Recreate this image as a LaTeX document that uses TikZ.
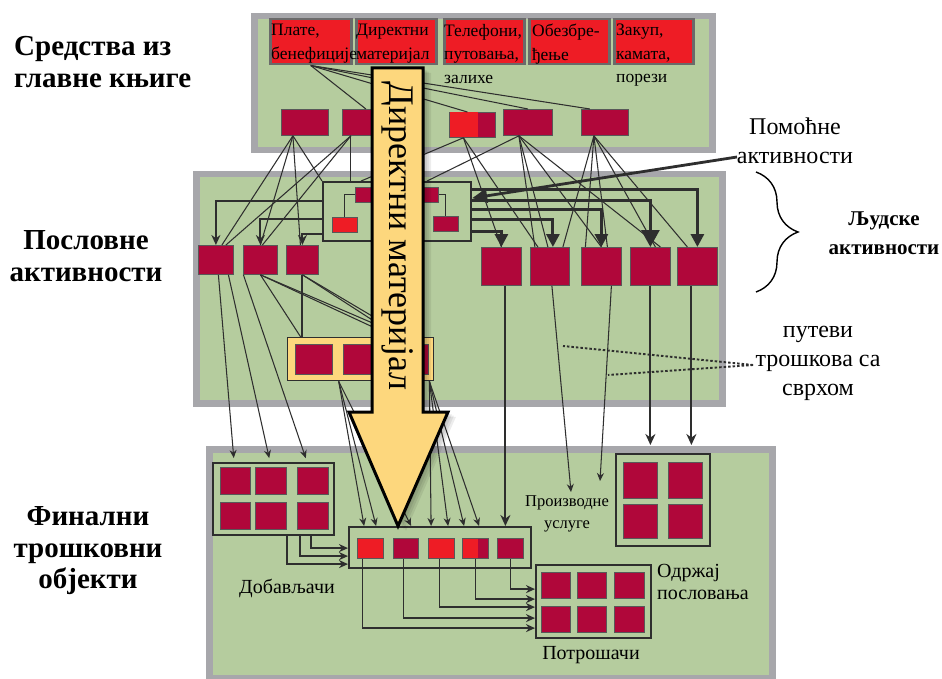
\documentclass[tikz,border=0pt]{standalone}
\usepackage{fontspec}
\setmainfont{Liberation Serif}
\usetikzlibrary{arrows.meta,decorations.pathreplacing,calc}
\definecolor{panelgreen}{HTML}{B5CC9E}
\definecolor{panelgray}{HTML}{A7A7AB}
\definecolor{darkred}{HTML}{B0073A}
\definecolor{brightred}{HTML}{EE1C25}
\definecolor{yellowc}{HTML}{FDD77D}
\definecolor{edge}{HTML}{2E2E2E}
\definecolor{topedge}{HTML}{6A6A6A}
\newcommand{\mybox}[6]{\node[#6, anchor=north west, minimum width={#4-#2}, minimum height={#5-#3}] (#1) at (#2,#3) {};}
\begin{document}
\begin{tikzpicture}[x=1pt,y=-1pt,
  panel/.style={draw=panelgray, line width=6.5pt, fill=panelgreen, inner sep=0pt},
  dbox/.style={draw=edge!80, line width=0.8pt, fill=darkred, inner sep=0pt},
  bbox/.style={draw=edge!80, line width=0.8pt, fill=brightred, inner sep=0pt},
  tbox/.style={draw=topedge, line width=2.5pt, fill=brightred, inner sep=0pt},
  grp/.style={draw=edge, line width=2.2pt, fill=panelgreen, inner sep=0pt},
  ybox/.style={draw=edge, line width=1.4pt, fill=yellowc, inner sep=0pt},
  conn/.style={draw=edge, line width=1.05pt},
  connarr/.style={conn, -{Stealth[length=8pt,width=7pt]}},
  midline/.style={draw=edge, line width=2pt},
  midarr/.style={draw=edge, line width=2pt, -{Stealth[length=11pt,width=10pt]}},
  elb/.style={draw=edge, line width=1.9pt, -{Stealth[length=10pt,width=9pt]}},
  elbarr/.style={draw=edge, line width=1.7pt, -{Stealth[length=9pt,width=8pt]}},
  heavy/.style={draw=edge, line width=3pt, -{Triangle[length=13pt,width=13pt]}},
  bigtip/.style={-{Triangle[length=17pt,width=18pt]}},
  labelarr/.style={draw=edge, line width=2.8pt, -{Triangle[length=15pt,width=14pt]}},
  dotline/.style={draw=edge, line width=1.9pt, dash pattern=on 2.5pt off 2pt},
  toptext/.style={font=\fontsize{17.5}{23.5}\selectfont, align=left, inner sep=0pt, anchor=north west},
  biglbl/.style={font=\fontsize{29}{31.5}\selectfont\bfseries, inner sep=0pt},
  midlbl/.style={font=\fontsize{24}{29}\selectfont, inner sep=0pt, align=center},
  botlbl/.style={font=\fontsize{20}{22}\selectfont, inner sep=0pt},
]
\useasboundingbox (0,0) rectangle (942,679);
\fill[white] (0,0) rectangle (942,679);

% panels
\mybox{P1}{251}{13}{709}{147}{panel}
\mybox{P2}{193}{171}{719}{400}{panel}
\mybox{P3}{206}{446}{769}{675}{panel}

% top row (ledger)
\mybox{t1}{269}{18}{350}{63}{tbox}
\mybox{t2}{355}{18}{435}{63}{tbox}
\mybox{t3}{443}{18}{523}{63}{tbox}
\mybox{t4}{528}{18}{608}{63}{tbox}
\mybox{t5}{613}{18}{692}{63}{tbox}

% second row
\mybox{r1}{281}{109}{328}{135}{dbox}
\mybox{r2}{342}{109}{389}{135}{dbox}
\mybox{r3}{449}{112}{495}{137}{dbox}
\fill[brightred] ([shift={(0.5,0.5)}]r3.north west) rectangle ([shift={(29,-0.5)}]r3.south west);
\mybox{r4}{503}{109}{552}{135}{dbox}
\mybox{r5}{581}{109}{628}{135}{dbox}

% support activities
\mybox{s}{322}{181}{470}{240}{grp}
\mybox{sa}{355}{187}{378}{202}{dbox}
\mybox{sb}{420}{187}{438}{202}{dbox}
\mybox{sc}{332}{217}{357}{232}{bbox}
\mybox{sd}{433}{216}{458}{231}{dbox}

% business activities
\mybox{la1}{198}{245}{233}{274}{dbox}
\mybox{la2}{243}{245}{277}{274}{dbox}
\mybox{la3}{286}{245}{318}{274}{dbox}
\mybox{ra1}{481}{247}{521}{285}{dbox}
\mybox{ra2}{530}{247}{569}{285}{dbox}
\mybox{ra3}{581}{247}{621}{285}{dbox}
\mybox{ra4}{630}{247}{670}{285}{dbox}
\mybox{ra5}{677}{247}{717}{285}{dbox}

% yellow group
\mybox{yb}{287}{337}{433}{380}{ybox}
\mybox{y1}{295}{344}{332}{374}{dbox}
\mybox{y2}{343}{344}{380}{374}{dbox}
\mybox{y3}{390}{344}{428}{374}{dbox}

% final cost objects
\mybox{d}{212}{462}{333}{534}{grp}
\mybox{d1}{220}{467}{250}{494}{dbox}
\mybox{d2}{255}{467}{286}{494}{dbox}
\mybox{d3}{297}{467}{328}{494}{dbox}
\mybox{d4}{220}{502}{250}{529}{dbox}
\mybox{d5}{255}{502}{286}{529}{dbox}
\mybox{d6}{297}{502}{328}{529}{dbox}

\mybox{c}{348}{526}{530}{567}{grp}
\mybox{c1}{357}{538}{383}{558}{bbox}
\mybox{c2}{393}{538}{418}{558}{dbox}
\mybox{c3}{428}{538}{454}{558}{bbox}
\mybox{c4}{462}{538}{488}{558}{dbox}
\fill[brightred] ([shift={(0.5,0.5)}]c4.north west) rectangle ([shift={(16,-0.5)}]c4.south west);
\mybox{c5}{497}{538}{523}{558}{dbox}

\mybox{p}{615}{453}{709}{545}{grp}
\mybox{p1}{623}{462}{657}{498}{dbox}
\mybox{p2}{668}{462}{702}{498}{dbox}
\mybox{p3}{623}{504}{657}{538}{dbox}
\mybox{p4}{668}{504}{702}{538}{dbox}

\mybox{k}{535}{564}{650}{637}{grp}
\mybox{k1}{541}{572}{570}{598}{dbox}
\mybox{k2}{577}{572}{606}{598}{dbox}
\mybox{k3}{614}{572}{644}{598}{dbox}
\mybox{k4}{541}{606}{570}{632}{dbox}
\mybox{k5}{577}{606}{606}{632}{dbox}
\mybox{k6}{614}{606}{644}{632}{dbox}

% ---- connectors: ledger -> resources
\draw[conn] (t1.south) -- (r2.north);
\draw[conn] (t1.south) -- ([xshift=-5]r3.north);
\draw[conn] (t1.south) -- (r4.north);
\draw[conn] (t1.south) -- ([xshift=-15]r5.north);

% resources -> activities
\coordinate (r1f) at ([xshift=-12]r1.south);
\draw[conn] (r1f) -- ([xshift=6]la1.north);
\draw[conn] (r1f) -- (la2.north);
\draw[conn] (r1f) -- ([xshift=-2]la3.north);
\draw[conn] (r1f) -- (s.north west);
\coordinate (r2f) at ([xshift=-15]r2.south);
\draw[conn] (r2f) -- (r2f |- s.north);
\draw[conn] (r2f) -- ([xshift=10]la1.north);
\draw[conn] (r2f) -- ([xshift=2]la2.north);
\coordinate (r3f) at ([xshift=-9]r3.south);
\draw[conn] (r3f) -- ([xshift=-36]s.north);
\draw[conn] (r3f) -- (ra1.north);
\draw[conn] (r3f) -- ([xshift=-12]ra2.north);
\coordinate (r4f) at ([xshift=-9]r4.south);
\draw[conn] (r4f) -- ([xshift=30]s.north);
\draw[conn] (r4f) -- ([xshift=-15]ra2.north);
\draw[conn] (r4f) -- ([xshift=-2]ra2.north);
\draw[conn] (r4f) -- (ra3.north);
\draw[conn] (r4f) -- ([xshift=10]ra4.north);
\coordinate (r5f) at ([xshift=-11]r5.south);
\draw[conn] (r5f) -- ([xshift=13]ra2.north);
\draw[conn] (r5f) -- ([xshift=-16]ra3.north);
\draw[conn] (r5f) -- ([xshift=6]ra3.north);
\draw[conn] (r5f) -- ([xshift=5]ra4.north);
\draw[conn] (r5f) -- ([xshift=-10]ra5.north);

% support internal brackets
\draw[conn] (sa.west) -| (sc.north);
\draw[conn] (sb.east) -| (sd.north);

% support -> activities
\draw[elb] ([yshift=10.5]s.west) -| (la1.north);
\draw[elb] ([yshift=-7.5]s.west) -| (la2.north);
\draw[elb] ([yshift=-22.5]s.west) -| (la3.north);
\draw[heavy] ([yshift=-19.5]s.east) -| (ra1.north);
\draw[heavy] ([yshift=-7.5]s.east) -| ([xshift=3]ra2.north);
\draw[heavy] ([yshift=2.5]s.east) -| (ra3.north);
\draw[heavy,bigtip] ([yshift=11.5]s.east) -| (ra4.north);
\draw[heavy] ([yshift=22.5]s.east) -| (ra5.north);

% label arrow
\coordinate (pl) at (737,157);
\draw[labelarr] (pl) -- ([yshift=13.5]s.east);

% activities -> suppliers
\draw[connarr, shorten >=4pt] ([xshift=2.5]la1.south) -- ([xshift=-39.5]d.north);
\draw[connarr, shorten >=4pt] ([xshift=12.5]la1.south) -- ([xshift=-3.5]d.north);
\draw[connarr, shorten >=4pt] ([xshift=-17]la2.south) -- ([xshift=33.5]d.north);

% activities -> yellow group
\draw[midline] (la3.south) -- (la3.south |- yb.north);
\draw[conn] (la2.south) -- ([xshift=-60]yb.north);
\draw[conn] (la2.south) -- (y3.north);
\draw[conn] (la2.south) -- ([xshift=12]y3.north);
\draw[conn] (la3.south) -- (y3.north);
\draw[conn] (la3.south) -- ([xshift=10]y3.north);

% yellow group -> products
\coordinate (ybl) at ([xshift=-22]yb.south);
\coordinate (ybr) at ([xshift=-5]yb.south east);
\draw[connarr] (ybl) -- ([xshift=-76]c.north);
\draw[connarr] (ybl) -- ([xshift=-64]c.north);
\draw[connarr] (ybl) -- ([xshift=-29]c.north);
\draw[connarr] (ybr) -- ([xshift=-9]c.north);
\draw[connarr] (ybr) -- ([xshift=8]c.north);
\draw[connarr] (ybr) -- ([xshift=24]c.north);
\draw[connarr] (ybr) -- ([xshift=39]c.north);

% right activities -> final objects
\coordinate (ra1b) at ([xshift=4]ra1.south);
\draw[midarr] (ra1b) -- (ra1b |- c.north);
\coordinate (pt1) at (571,492);
\coordinate (pt2) at (600,481);
\draw[connarr] ([xshift=2]ra2.south) -- (pt1);
\draw[connarr] ([xshift=10]ra3.south) -- (pt2);
\draw[midarr, shorten >=8pt] (ra4.south) -- (ra4.south |- p.north);
\coordinate (ra5b) at ([xshift=-6]ra5.south);
\draw[midarr, shorten >=8pt] (ra5b) -- (ra5b |- p.north);

% suppliers -> products
\draw[elbarr] ([xshift=13.5]d.south) |- ([yshift=-16.5]c.west);
\draw[elbarr] ([xshift=26.5]d.south) |- ([yshift=-8.5]c.west);
\draw[elbarr] ([xshift=37.5]d.south) |- ([yshift=-0.5]c.west);

% products -> consumers
\draw[elbarr] ([xshift=-8]c1.south) |- ([yshift=-26.5]k.west);
\draw[elbarr] ([xshift=-2.5]c2.south) |- ([yshift=-16.5]k.west);
\draw[elbarr] ([xshift=-2]c3.south) |- ([yshift=-5.5]k.west);
\draw[elbarr] (c4.south) |- ([yshift=2.5]k.west);
\draw[elbarr] (c5.south) |- ([yshift=12.5]k.west);

% purposeful cost paths
\coordinate (pv) at (753,365);
\coordinate (pv1) at (563,346);
\coordinate (pv2) at (608,375);
\draw[dotline] (pv) -- (pv1);
\draw[dotline] (pv) -- (pv2);

% brace
\draw[line width=1.4pt, decorate, decoration={brace, amplitude=42pt, aspect=0.5}] (756,172) -- (756,292);

% big "direct material" arrow
\foreach \s in {2,4,6,8}
  \fill[black, opacity=0.07, shift={(\s,\s*0.6)}] (372,68) -- (423,68) -- (423,412) -- (448,412) -- (398,526) -- (349,412) -- (372,412) -- cycle;
\draw[fill=yellowc, draw=black, line width=3pt, line join=miter] (372,68) -- (423,68) -- (423,412) -- (448,412) -- (398,526) -- (349,412) -- (372,412) -- cycle;
\node[rotate=-90, font=\fontsize{36}{36}\selectfont, inner sep=0pt] (dm) at (398,236) {Директни материјал};

% texts in ledger boxes
\node[toptext] (tx1) at ([shift={(2,6)}]t1.north west) {Плате,\\бенефиције};
\node[toptext] (tx2) at ([shift={(1,6)}]t2.north west) {Директни\\материјал};
\node[toptext] (tx3) at ([shift={(1,6)}]t3.north west) {Телефони,\\путовања,\\залихе};
\node[toptext] (tx4) at ([shift={(4,6)}]t4.north west) {Обезбре-\\ђење};
\node[toptext] (tx5) at ([shift={(3,6)}]t5.north west) {Закуп,\\камата,\\порези};

% side labels
\node[biglbl, align=left, anchor=west] (L1) at (14,62) {Средства из\\главне књиге};
\node[biglbl, align=center] (L2) at (86,256) {Пословне\\активности};
\node[biglbl, align=center] (L3) at (88,551) {Финални\\трошковни\\објекти};

\node[midlbl] (Lpom) at (795,141) {Помоћне\\активности};
\node[font=\fontsize{21}{29}\selectfont\bfseries, align=center, inner sep=0pt] (Lhum) at (884,233) {Људске\\активности};
\node[midlbl] (Lput) at (818,363) {путеви\\трошкова са\\сврхом};

\node[font=\fontsize{16.5}{22}\selectfont, align=center, inner sep=0pt] (Lpro) at (567,514) {Производне\\услуге};
\node[botlbl, align=left, anchor=west] (Lodr) at (657,582) {Одржај\\пословања};
\node[botlbl] (Ldob) at (287,588) {Добављачи};
\node[botlbl] (Lpot) at (591,655) {Потрошачи};
\end{tikzpicture}
\end{document}
